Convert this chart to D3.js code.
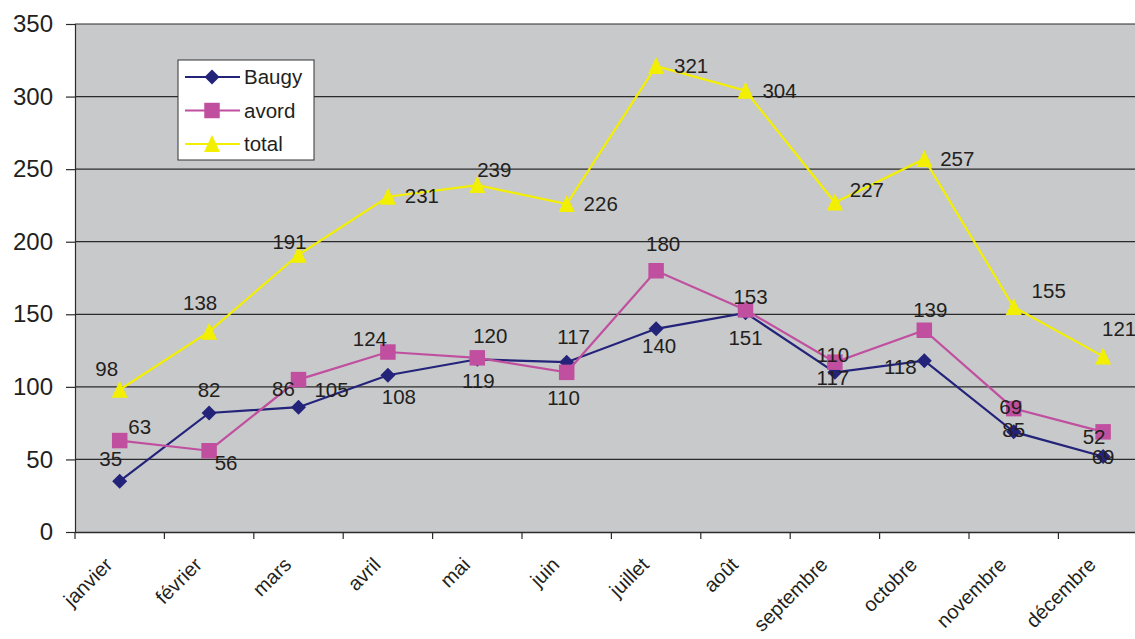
<!DOCTYPE html>
<html><head><meta charset="utf-8">
<script src="https://cdn.jsdelivr.net/npm/d3@7"></script>
<style>
html,body{margin:0;padding:0;background:#fff;}
svg text{font-family:"Liberation Sans",Arial,sans-serif;fill:#231f20;}
</style></head>
<body><svg id="chart" width="1135" height="639"></svg>
<script>
// ---- data ----
const months = ["janvier","février","mars","avril","mai","juin","juillet","août","septembre","octobre","novembre","décembre"];
const baugy = [35,82,86,108,119,117,140,151,110,118,69,52];
const avord = [63,56,105,124,120,110,180,153,117,139,85,69];
const total = [98,138,191,231,239,226,321,304,227,257,155,121];
// data label texts as printed on the chart
const baugyLabels = ["35","82","86","108","119","117","140","151","117","118","85","69"];
const avordLabels = ["63","56","105","124","120","110","180","153","110","139","69","52"];
const totalLabels = ["98","138","191","231","239","226","321","304","227","257","155","121"];
const yTicks = [0,50,100,150,200,250,300,350];

(function(){
// ---- layout (label offsets relative to point) ----
const offB = [[-9,-22],[0,-23],[-15,-18],[11,22],[1,22],[7,-25],[3,17],[0,25],[-2,5],[-24,6],[0,-2],[0,0]];
const offA = [[20,-14],[17,12],[33,10],[-18,-13],[13,-22],[-3,25],[7,-27],[5,-13],[-2,-7],[6,-20],[-3,-2],[-9,5]];
const offT = [[-13,-21],[-9,-29],[-9,-13],[34,-1],[17,-15],[34,0],[35,0],[34,0],[32,-13],[33,0],[35,-16],[16,-28]];

const svg = d3.select("#chart");
const pLeft = 75, pTop = 24, pBottom = 532, pRight = 75 + 12*89.4;
const x = d3.scaleBand().domain(months).range([pLeft, pRight]);
const y = d3.scaleLinear().domain([0,350]).range([pBottom, pTop]);
const cx = m => x(m) + x.bandwidth()/2;

svg.append("rect").attr("x",pLeft).attr("y",pTop).attr("width",pRight-pLeft).attr("height",pBottom-pTop).attr("fill","#c8c9cb");

svg.append("g").selectAll("line").data(yTicks.filter(d=>d>0)).join("line")
  .attr("x1",pLeft).attr("x2",pRight).attr("y1",d=>y(d)).attr("y2",d=>y(d))
  .attr("stroke","#2b2b2b").attr("stroke-width",1.2);

const yAxis = d3.axisLeft(y).tickValues(yTicks).tickSize(9).tickPadding(13);
const gy = svg.append("g").attr("transform",`translate(${pLeft},0)`).call(yAxis);
gy.select(".domain").attr("stroke","#2b2b2b").attr("stroke-width",1.2);
gy.selectAll(".tick line").attr("stroke","#2b2b2b").attr("stroke-width",1.2);
gy.selectAll("text").attr("font-size",24).attr("font-family","Liberation Sans, Arial, sans-serif").attr("fill","#231f20");

const xAxis = d3.axisBottom(x).tickSize(0).tickFormat("");
const gx = svg.append("g").attr("transform",`translate(0,${pBottom})`).call(xAxis);
gx.select(".domain").attr("stroke","#2b2b2b").attr("stroke-width",1.5);
gx.selectAll(".tick").remove();
svg.append("g").selectAll("line").data(months).join("line")
  .attr("x1",d=>x(d)).attr("x2",d=>x(d)).attr("y1",pBottom).attr("y2",pBottom+7)
  .attr("stroke","#2b2b2b").attr("stroke-width",1.2);
svg.append("g").selectAll("text").data(months).join("text")
  .attr("transform",d=>`translate(${cx(d)-6},${pBottom+34}) rotate(-45)`)
  .attr("text-anchor","end").attr("font-size",20).text(d=>d);

// custom marker shapes
const diamond = {draw(ctx,s){ const r=s/2; ctx.moveTo(0,-r); ctx.lineTo(r,0); ctx.lineTo(0,r); ctx.lineTo(-r,0); ctx.closePath(); }};
const square = {draw(ctx,s){ const r=s/2; ctx.rect(-r,-r,s,s); }};
const triangle = {draw(ctx,s){ const r=s/2; ctx.moveTo(0,-r-1); ctx.lineTo(r,r); ctx.lineTo(-r,r); ctx.closePath(); }};

const series = [
  {name:"Baugy", vals:baugy, labels:baugyLabels, off:offB, color:"#23237a", marker:diamond, size:15},
  {name:"avord", vals:avord, labels:avordLabels, off:offA, color:"#c0509f", marker:square, size:15.5},
  {name:"total", vals:total, labels:totalLabels, off:offT, color:"#f2ef00", marker:triangle, size:16}
];
const line = d3.line().x((d,i)=>cx(months[i])).y(d=>y(d));

series.forEach(s=>{
  const g = svg.append("g");
  g.append("path").datum(s.vals).attr("d",line).attr("fill","none").attr("stroke",s.color).attr("stroke-width",2.2);
  g.selectAll("path.m").data(s.vals).join("path").attr("class","m")
    .attr("transform",(d,i)=>`translate(${cx(months[i])},${y(d)})`)
    .attr("d",d3.symbol().type(s.marker).size(s.size)).attr("fill",s.color);
});
series.forEach(s=>{
  svg.append("g").selectAll("text").data(s.vals).join("text")
    .attr("x",(d,i)=>cx(months[i]) + s.off[i][0])
    .attr("y",(d,i)=>y(d) + s.off[i][1])
    .attr("dy","0.35em").attr("text-anchor","middle").attr("font-size",20.5)
    .text((d,i)=>s.labels[i]);
});

const lg = svg.append("g");
lg.append("rect").attr("x",178).attr("y",60).attr("width",136).attr("height",100)
  .attr("fill","#fff").attr("stroke","#333").attr("stroke-width",1);
series.forEach((s,i)=>{
  const yy = 77 + i*33.5;
  lg.append("line").attr("x1",185).attr("x2",240).attr("y1",yy).attr("y2",yy).attr("stroke",s.color).attr("stroke-width",2.2);
  lg.append("path").attr("transform",`translate(212,${yy})`).attr("d",d3.symbol().type(s.marker).size(s.size)).attr("fill",s.color);
  lg.append("text").attr("x",244).attr("y",yy).attr("dy","0.35em").attr("font-size",20.5).text(s.name);
});
})();
</script></body></html>
